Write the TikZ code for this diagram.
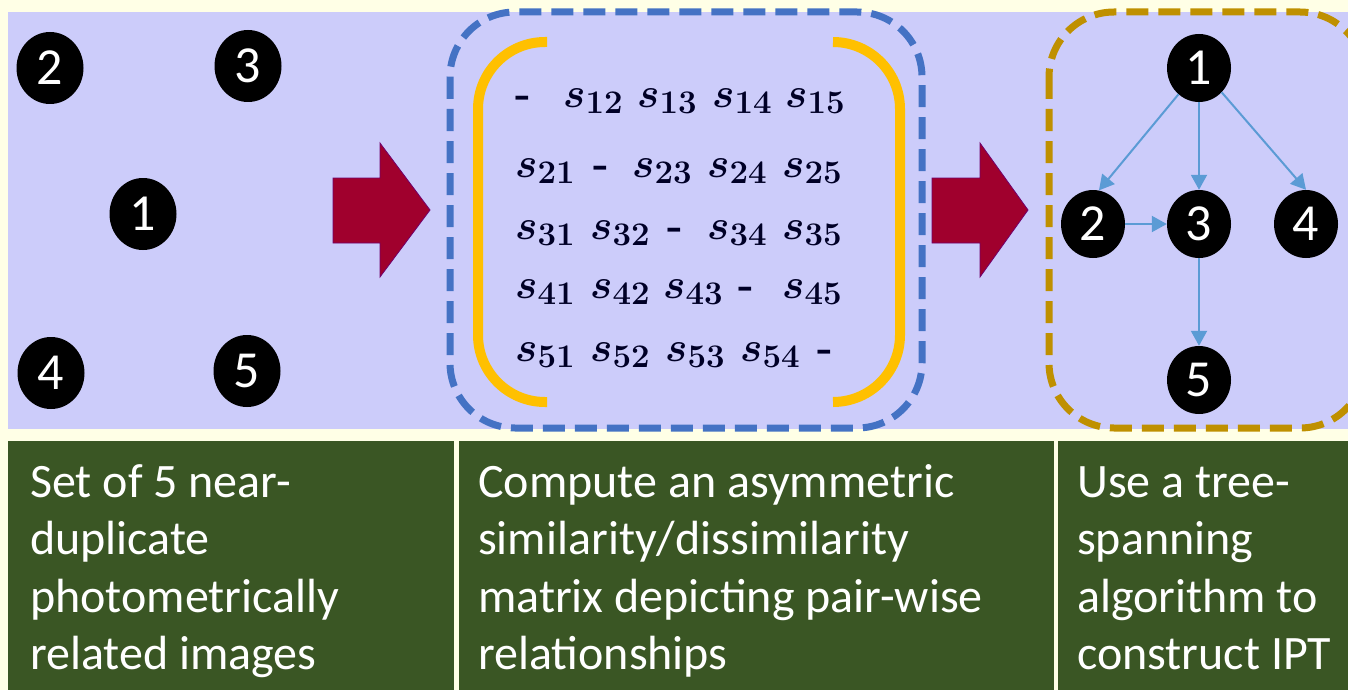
\RequirePackage{fix-cm}
\documentclass[tikz,border=0pt]{standalone}
\usepackage{fontspec}
\newfontfamily\calibri{Carlito}
\DeclareMathSizes{42}{42}{33}{26}
\usetikzlibrary{
    arrows.meta,
    shapes.geometric
}

\definecolor{cream}{RGB}{255,255,230}
\definecolor{lavender}{RGB}{204,204,250}
\definecolor{olive}{RGB}{58,86,36}
\definecolor{crimson}{RGB}{160,0,45}
\definecolor{dashblue}{RGB}{68,114,196}
\definecolor{bracketgold}{RGB}{255,192,0}
\definecolor{dashgold}{RGB}{191,144,0}
\definecolor{linkblue}{RGB}{91,155,213}

\begin{document}
\begin{tikzpicture}[
      x=1pt, y=-1pt,
      imgnode/.style={ellipse, fill=black, text=white, inner sep=0pt,
          minimum width=67pt, minimum height=72pt,
          font=\calibri\fontsize{52}{52}\selectfont},
      treenode/.style={imgnode, minimum width=64pt, minimum height=68pt},
      entry/.style={anchor=base west, inner sep=0pt, text=black!85!blue,
          font=\fontsize{42}{50}\selectfont\boldmath},
      gap/.style={entry, font=\bfseries\fontsize{42}{50}\selectfont},
      caption/.style={anchor=base west, inner sep=0pt, text=white, align=left,
          font=\calibri\fontsize{48}{57.5}\selectfont},
      bigarrow/.style={fill=crimson, draw=crimson!70!blue, line width=0.8pt},
      blockframe/.style={line width=7pt, rounded corners=65pt,
          dash pattern=on 22pt off 10pt},
      bracket/.style={draw=bracketgold, line width=10pt, rounded corners=67pt},
      link/.style={-{Triangle[length=15pt, width=16pt]}, draw=linkblue,
          fill=linkblue, line width=2pt}
    ]
    \useasboundingbox (0,0) rectangle (1348,690);
    \clip (0,0) rectangle (1348,690);
    \fill[cream] (0,0) rectangle (1348,690);
    \fill[lavender] (8,12) rectangle (1348,429);
    \fill[olive] (8,441) rectangle (454,690);
    \fill[olive] (459,441) rectangle (1054,690);
    \fill[olive] (1058,441) rectangle (1348,690);

    \node[imgnode] (img2) at (50,68) {2};
    \node[imgnode] (img3) at (248,66) {3};
    \node[imgnode] (img1) at (143,214) {1};
    \node[imgnode] (img4) at (51,373) {4};
    \node[imgnode] (img5) at (247,371) {5};

    \path[bigarrow] (333,178) -- (380,178) -- (380,143) -- (430,210)
        -- (380,277) -- (380,243) -- (333,243) -- cycle;
    \path[bigarrow] (932,178) -- (980,178) -- (980,143) -- (1028,210)
        -- (980,277) -- (980,243) -- (932,243) -- cycle;

    \draw[blockframe, draw=dashblue] (450,12) rectangle (922,428);
    \draw[bracket] (547,42) -- (478,42) -- (478,402) -- (547,402);
    \draw[bracket] (833,42) -- (900,42) -- (900,402) -- (833,402);

    \node[gap] (m11) at (515,107) {-};
    \node[entry] (m12) at (563,107) {$s_{12}$};
    \node[entry] (m13) at (637,107) {$s_{13}$};
    \node[entry] (m14) at (712,107) {$s_{14}$};
    \node[entry] (m15) at (785,107) {$s_{15}$};

    \node[entry] (m21) at (515,177) {$s_{21}$};
    \node[gap] (m22) at (593,177) {-};
    \node[entry] (m23) at (632,177) {$s_{23}$};
    \node[entry] (m24) at (707,177) {$s_{24}$};
    \node[entry] (m25) at (782,177) {$s_{25}$};

    \node[entry] (m31) at (515,239) {$s_{31}$};
    \node[entry] (m32) at (590,239) {$s_{32}$};
    \node[gap] (m33) at (667,239) {-};
    \node[entry] (m34) at (707,239) {$s_{34}$};
    \node[entry] (m35) at (782,239) {$s_{35}$};

    \node[entry] (m41) at (515,298) {$s_{41}$};
    \node[entry] (m42) at (590,298) {$s_{42}$};
    \node[entry] (m43) at (663,298) {$s_{43}$};
    \node[gap] (m44) at (738,298) {-};
    \node[entry] (m45) at (782,298) {$s_{45}$};

    \node[entry] (m51) at (515,361) {$s_{51}$};
    \node[entry] (m52) at (590,361) {$s_{52}$};
    \node[entry] (m53) at (665,361) {$s_{53}$};
    \node[entry] (m54) at (740,361) {$s_{54}$};
    \node[gap] (m55) at (817,361) {-};

    \draw[blockframe, draw=dashgold] (1049,12) rectangle (1365,428);

    \node[treenode] (t1) at (1199,68) {1};
    \node[treenode] (t2) at (1093,224) {2};
    \node[treenode] (t3) at (1199,224) {3};
    \node[treenode] (t4) at (1306,224) {4};
    \node[treenode] (t5) at (1199,380) {5};

    \draw[link] (t1.232) -- (t2.80);
    \draw[link] (t1) -- (t3);
    \draw[link] (t1.313) -- (t4.north);
    \draw[link] (t2) -- (t3);
    \draw[link] (t3) -- (t5);

    \node[caption] (cap1) at (30,669.5) {Set of 5 near-\\duplicate\\photometrically\\related images};
    \node[caption] (cap2) at (478,669.5) {Compute an asymmetric\\similarity/dissimilarity\\matrix depicting pair-wise\\relationships};
    \node[caption] (cap3) at (1077,669.5) {Use a tree-\\spanning\\algorithm to\\construct IPT};
  \end{tikzpicture}
\end{document}
